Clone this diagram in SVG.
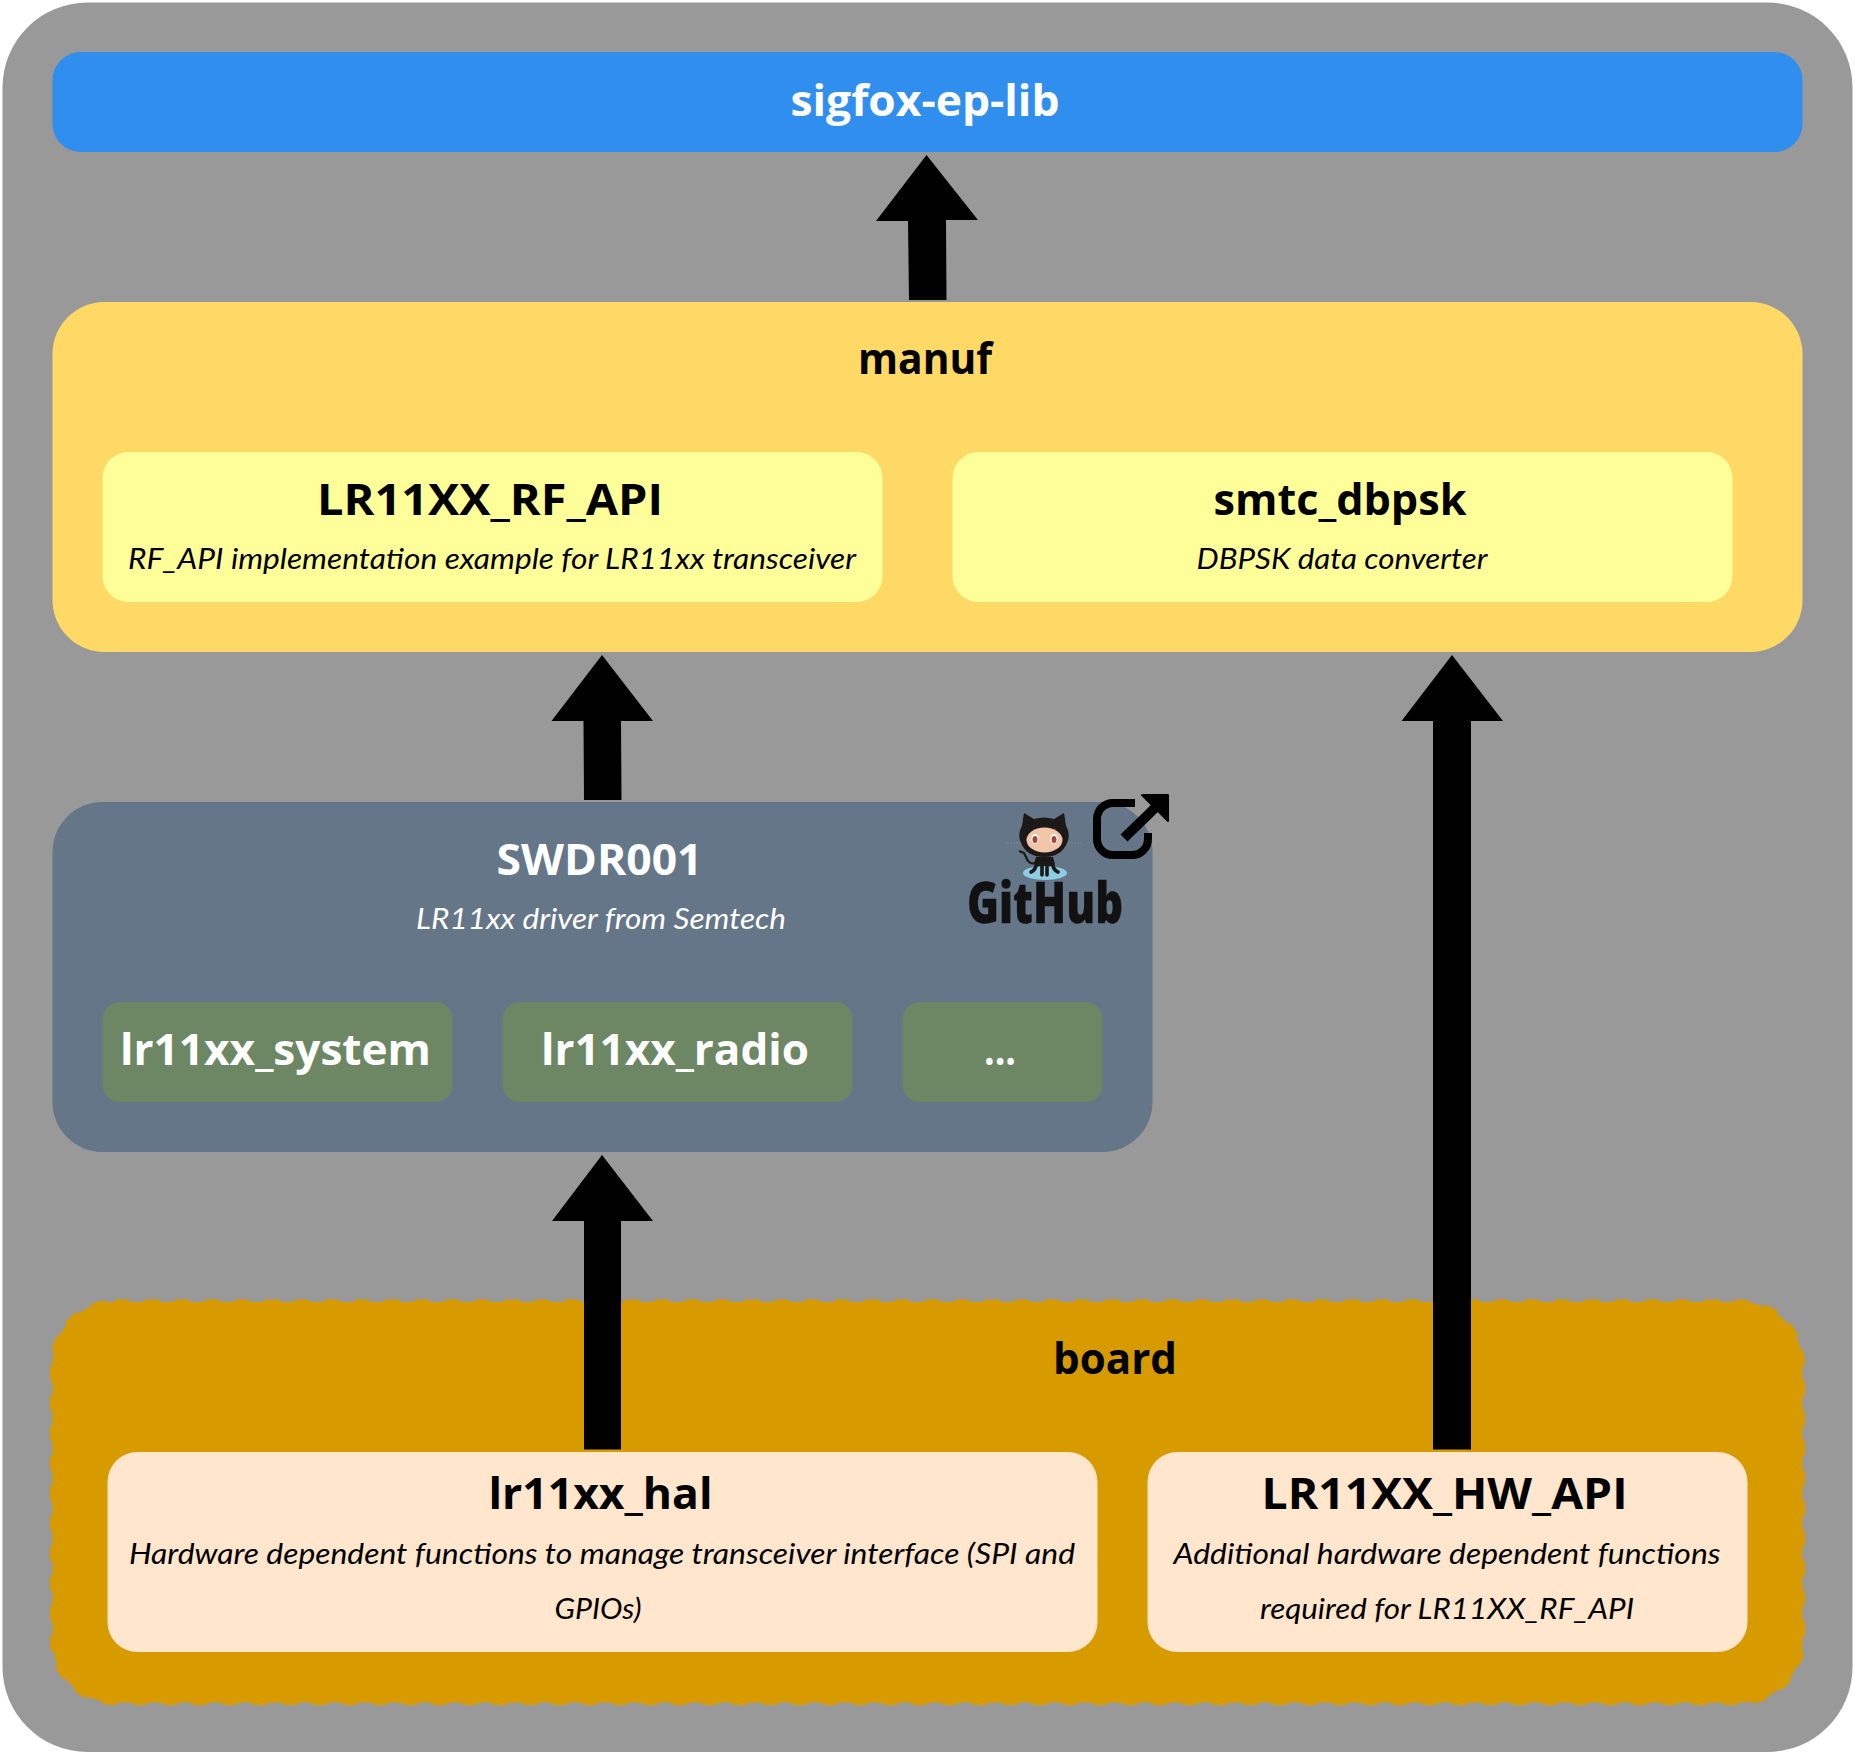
<svg xmlns="http://www.w3.org/2000/svg" width="1855" height="1755" viewBox="0 0 1855 1755">
<style>
text{text-anchor:middle}
.t{font:bold 43px "Open Sans","Noto Sans",sans-serif}
.s{font:italic 29px "Lato","Noto Sans",sans-serif}
.w{fill:#fff}
.a{fill:#000;stroke:none}
</style>
<rect width="1855" height="1755" fill="#fff"/>
<g id="background"><rect x="2.500" y="2.500" width="1850" height="1749.500" rx="85" fill="#999"/></g>
<g id="sigfox-ep-lib"><rect x="52.500" y="52" width="1750" height="100" rx="28" fill="#308eee"/>
<text class="t w" x="925" y="115.500" textLength="269" lengthAdjust="spacingAndGlyphs">sigfox-ep-lib</text></g>
<g id="manuf"><rect x="52.500" y="302" width="1750" height="350" rx="52" fill="#ffd966"/>
<text class="t" x="925" y="374" textLength="134" lengthAdjust="spacingAndGlyphs">manuf</text></g>
<g id="lr11xx-rf-api"><rect x="102.500" y="452" width="780" height="150" rx="26" fill="#ffff99"/>
<text class="t" x="490" y="515" textLength="346" lengthAdjust="spacingAndGlyphs">LR11XX_RF_API</text>
<text class="s" x="492" y="569" textLength="728" lengthAdjust="spacingAndGlyphs">RF_API implementation example for LR11xx transceiver</text></g>
<g id="smtc-dbpsk"><rect x="952.500" y="452" width="780" height="150" rx="26" fill="#ffff99"/>
<text class="t" x="1340" y="515" textLength="253" lengthAdjust="spacingAndGlyphs">smtc_dbpsk</text>
<text class="s" x="1342" y="569" textLength="291" lengthAdjust="spacingAndGlyphs">DBPSK data converter</text></g>
<g id="swdr001"><rect x="52.500" y="802" width="1100" height="350" rx="50" fill="#647687"/>
<text class="t w" x="599.500" y="875" textLength="206" lengthAdjust="spacingAndGlyphs">SWDR001</text>
<text class="s w" x="601" y="929" textLength="370" lengthAdjust="spacingAndGlyphs">LR11xx driver from Semtech</text></g>
<g id="lr11xx-system"><rect x="102.500" y="1002" width="350" height="100" rx="17" fill="#6d8764"/>
<text class="t w" x="275.500" y="1065" textLength="311" lengthAdjust="spacingAndGlyphs">lr11xx_system</text></g>
<g id="lr11xx-radio"><rect x="502.500" y="1002" width="350" height="100" rx="17" fill="#6d8764"/>
<text class="t w" x="675" y="1065" textLength="268" lengthAdjust="spacingAndGlyphs">lr11xx_radio</text></g>
<g id="more"><rect x="902.500" y="1002" width="200" height="100" rx="17" fill="#6d8764"/>
<text class="t w" x="1000" y="1065" textLength="32" lengthAdjust="spacingAndGlyphs">...</text></g>
<g id="github">
<g fill="#1b1817">
<path d="M1024 813l10 6q10-3 20 0l10-6 2 13q5 8 1 17-6 14-23 14t-23-14q-4-9 1-17z"/>
<path d="M1036 857h17q2 6 2 10h-21q0-5 2-10z"/>
</g>
<path d="M1037 861q-4 5-9 0l-4-8-5-2" fill="none" stroke="#1b1817" stroke-width="2.200"/>
<ellipse cx="1045" cy="873" rx="22" ry="7" fill="#8ccde4"/>
<path d="M1037 862q-1 8-6 10M1042 862v13M1047 862v13M1052 862q1 8 6 10" fill="none" stroke="#1b1817" stroke-width="3.600" stroke-linecap="round"/>
<ellipse cx="1044.500" cy="840" rx="18" ry="12.500" fill="#f0c5a8"/>
<ellipse cx="1035" cy="839" rx="3.800" ry="5" fill="#fff"/><ellipse cx="1054" cy="839" rx="3.800" ry="5" fill="#fff"/>
<ellipse cx="1035" cy="839.500" rx="2.500" ry="3.600" fill="#a8443c"/><ellipse cx="1054" cy="839.500" rx="2.500" ry="3.600" fill="#a8443c"/>
<path d="M1007 843h14M1068 843h15" stroke="#7d8996" stroke-width="1" stroke-dasharray="2 1"/>
<text x="1045" y="923" font-family="Open Sans" font-weight="800" font-size="56" fill="#111" stroke="#111" stroke-width="0.300" textLength="156" lengthAdjust="spacingAndGlyphs">GitHub</text>
</g>
<g id="external-link">
<path d="M1135 803h-22a16 16 0 0 0-16 16v20a16 16 0 0 0 16 16h19a16 16 0 0 0 16-16v-6" fill="none" stroke="#000" stroke-width="8"/>
<path d="M1124 838l34-33" stroke="#000" stroke-width="10" fill="none"/>
<path d="M1142 795h26v26z" fill="#000" stroke="#000" stroke-width="2" stroke-linejoin="round"/>
</g>
<g id="board"><rect x="52.500" y="1302" width="1750" height="400.500" rx="62" fill="#d79b00" stroke="#d79b00" stroke-width="5" stroke-dasharray="15 15"/>
<text class="t" x="1115" y="1374" textLength="124" lengthAdjust="spacingAndGlyphs">board</text></g>
<g id="lr11xx-hal"><rect x="107.500" y="1452" width="990" height="200" rx="30" fill="#ffe6cc"/>
<text class="t" x="600.500" y="1509" textLength="224" lengthAdjust="spacingAndGlyphs">lr11xx_hal</text>
<text class="s" x="602" y="1564" textLength="946" lengthAdjust="spacingAndGlyphs">Hardware dependent functions to manage transceiver interface (SPI and</text>
<text class="s" x="598" y="1619" textLength="87" lengthAdjust="spacingAndGlyphs">GPIOs)</text></g>
<g id="lr11xx-hw-api"><rect x="1147.500" y="1452" width="600" height="200" rx="30" fill="#ffe6cc"/>
<text class="t" x="1444.500" y="1509" textLength="366" lengthAdjust="spacingAndGlyphs">LR11XX_HW_API</text>
<text class="s" x="1447" y="1564" textLength="547" lengthAdjust="spacingAndGlyphs">Additional hardware dependent functions</text>
<text class="s" x="1447" y="1619" textLength="374" lengthAdjust="spacingAndGlyphs">required for LR11XX_RF_API</text></g>
<g id="connectors">
<polygon class="a" points="926.500,155 978,220 946,220 946.500,300 909,300 908,221 876,221"/>
<polygon class="a" points="602,655 653,721 621,721 621.500,800 584,800 583.500,721 551.500,721"/>
<polygon class="a" points="602,1155 653,1221 621,1221 621,1449.500 584,1449.500 584,1221 552,1221"/>
<polygon class="a" points="1452,655 1503,721 1471,721 1471,1449.500 1433,1449.500 1433,721 1401.500,721"/>
</g>
</svg>
